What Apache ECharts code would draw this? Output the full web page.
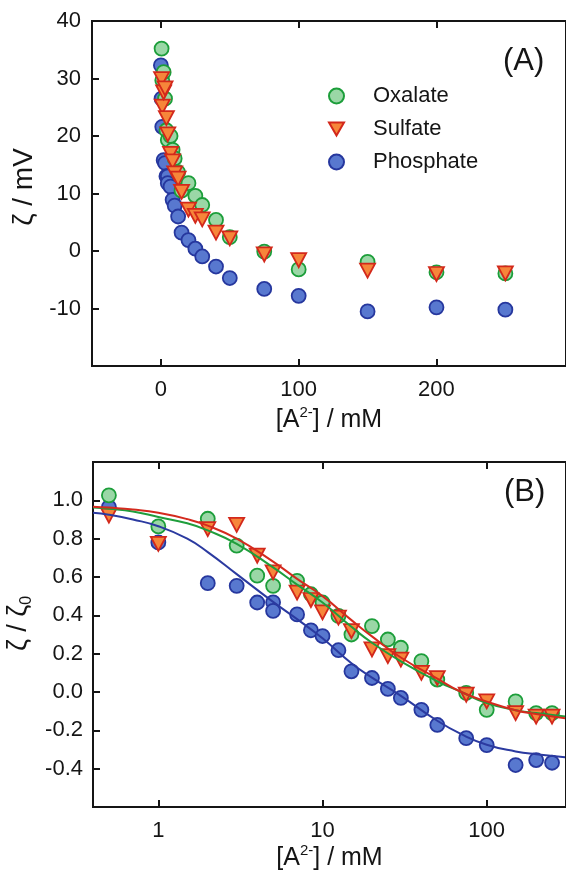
<!DOCTYPE html>
<html>
<head>
<meta charset="utf-8">
<script src="https://cdn.jsdelivr.net/npm/echarts@6/dist/echarts.min.js"></script>
<style>
html,body{margin:0;padding:0;background:#fff;}
#c{width:566px;height:874px;}
</style>
</head>
<body>
<div id="c"></div>
<script>
// ---- Panel A: zeta potential (mV) vs concentration (mM) ----
const concA = [0.5, 1, 2, 3, 4, 5, 7, 8.5, 10, 12.5, 15, 20, 25, 30, 40, 50, 75, 100, 150, 200, 250];
const oxalateA = [35.2, 29.7, 31.1, 26.5, 21.0, 19.3, 20.0, 17.6, 16.1, 13.7, 10.5, 11.8, 9.6, 8.0, 5.4, 2.4, -0.1, -3.2, -1.9, -3.7, -3.9];
const sulfateA = [29.9, 25.1, 27.6, 28.3, 23.1, 20.3, 16.9, 15.6, 13.5, 12.6, 10.3, 7.2, 6.1, 5.5, 3.2, 2.2, -0.6, -1.6, -3.4, -4.0, -3.9];
const concPhosA = [0, 0.5, 1, 2, 3, 4, 5, 5, 7, 8.5, 10, 12.5, 15, 20, 25, 30, 40, 50, 75, 100, 150, 200, 250];
const phosphateA = [32.3, 26.5, 21.6, 15.8, 15.3, 13.0, 13.0, 11.8, 11.2, 8.9, 7.9, 6.0, 3.2, 1.9, 0.4, -0.95, -2.7, -4.7, -6.6, -7.8, -10.5, -9.8, -10.2];

// ---- Panel B: normalized zeta vs concentration (log) ----
const concB = [0.5, 1, 2, 3, 4, 5, 7, 8.5, 10, 12.5, 15, 20, 25, 30, 40, 50, 75, 100, 150, 200, 250];
const oxalateB = [1.026, 0.864, 0.904, 0.764, 0.607, 0.554, 0.58, 0.51, 0.467, 0.397, 0.30, 0.344, 0.274, 0.231, 0.161, 0.065, -0.005, -0.093, -0.049, -0.11, -0.11];
const sulfateB = [0.92, 0.773, 0.85, 0.872, 0.711, 0.624, 0.519, 0.48, 0.416, 0.388, 0.318, 0.222, 0.187, 0.169, 0.10, 0.073, -0.014, -0.049, -0.11, -0.128, -0.128];
const concPhosB = [0.5, 1, 2, 3, 4, 5, 5, 7, 8.5, 10, 12.5, 15, 20, 25, 30, 40, 50, 75, 100, 150, 200, 250];
const phosphateB = [0.965, 0.78, 0.568, 0.554, 0.467, 0.468, 0.423, 0.405, 0.322, 0.292, 0.218, 0.108, 0.073, 0.016, -0.031, -0.093, -0.172, -0.241, -0.277, -0.381, -0.355, -0.369];

// fitted curves
const fitX = [0.4, 0.5, 0.7, 1, 1.5, 2, 3, 5, 7, 10, 15, 20, 30, 50, 70, 100, 150, 200, 300];
const oxalateFit = [0.962, 0.956, 0.942, 0.913, 0.88, 0.843, 0.773, 0.65, 0.56, 0.467, 0.34, 0.257, 0.16, 0.056, 0.0, -0.058, -0.095, -0.11, -0.128];
const sulfateFit = [0.967, 0.962, 0.952, 0.935, 0.902, 0.868, 0.80, 0.68, 0.59, 0.50, 0.375, 0.29, 0.18, 0.07, 0.0, -0.05, -0.095, -0.115, -0.137];
const phosphateFit = [0.935, 0.925, 0.90, 0.865, 0.80, 0.73, 0.615, 0.47, 0.38, 0.28, 0.15, 0.075, -0.02, -0.15, -0.22, -0.275, -0.31, -0.325, -0.34];

// tick labels
const ticksAX = [0, 100, 200];
const seriesNames = ['Oxalate', 'Sulfate', 'Phosphate'];

const FONT = 'Liberation Sans, Arial, Helvetica, sans-serif';
const INK = '#151515';
const GREEN = {fill: '#9ad7a6', edge: '#1c9e3a', line: '#1f9e3c'};
const RED = {fill: '#f6863a', edge: '#d3281b', line: '#d42a1e'};
const BLUE = {fill: '#5878cf', edge: '#26379e', line: '#2b3aa0'};

const zip = (xs, ys) => xs.map((x, i) => [x, ys[i]]);

const chart = echarts.init(document.getElementById('c'), null, {renderer: 'canvas'});

const tickStyle = {show: true, inside: true, length: 7, lineStyle: {color: INK, width: 2}};
const labelStyle = {color: INK, fontSize: 22, fontFamily: FONT};
const axLine = {show: true, onZero: false, lineStyle: {color: INK, width: 2}};
const gridBase = {show: true, borderColor: INK, borderWidth: 2, backgroundColor: 'transparent', outerBoundsMode: 'none', containLabel: false};

function markStyle(c) {
  return {color: c.fill, borderColor: c.edge, borderWidth: 1.8, opacity: 1};
}
const nameRich = {
  n: {fontSize: 25, lineHeight: 30, color: INK, fontFamily: FONT, verticalAlign: 'middle'},
  s: {fontSize: 15, lineHeight: 15, color: INK, fontFamily: FONT, verticalAlign: 'top'}
};

const option = {
  animation: false,
  backgroundColor: '#ffffff',
  textStyle: {fontFamily: FONT},
  grid: [
    Object.assign({left: 92, top: 21, right: 0, height: 345}, gridBase),
    Object.assign({left: 93, top: 462, right: 0, height: 345}, gridBase)
  ],
  xAxis: [
    {
      gridIndex: 0, type: 'value', min: -50, max: 294, position: 'bottom',
      axisLine: axLine, splitLine: {show: false},
      axisTick: Object.assign({customValues: ticksAX}, tickStyle),
      axisLabel: Object.assign({customValues: ticksAX, margin: 13}, labelStyle),
      name: '{n|[A}{s|2-}{n|] / mM}', nameLocation: 'middle', nameGap: 39,
      nameTextStyle: {rich: nameRich}
    },
    {
      gridIndex: 0, type: 'value', min: -50, max: 294, position: 'top',
      axisLine: axLine, splitLine: {show: false},
      axisTick: Object.assign({customValues: ticksAX}, tickStyle),
      axisLabel: {show: false}
    },
    {
      gridIndex: 1, type: 'log', logBase: 10, min: 0.4, max: 304, position: 'bottom',
      axisLine: axLine, splitLine: {show: false}, minorTick: {show: false},
      axisTick: tickStyle,
      axisLabel: Object.assign({margin: 13, showMinLabel: false, showMaxLabel: false}, labelStyle),
      name: '{n|[A}{s|2-}{n|] / mM}', nameLocation: 'middle', nameGap: 36,
      nameTextStyle: {rich: nameRich}
    },
    {
      gridIndex: 1, type: 'log', logBase: 10, min: 0.4, max: 304, position: 'top',
      axisLine: axLine, splitLine: {show: false}, minorTick: {show: false},
      axisTick: tickStyle,
      axisLabel: {show: false}
    }
  ],
  yAxis: [
    {
      gridIndex: 0, type: 'value', min: -20, max: 40, interval: 10,
      axisLine: axLine, splitLine: {show: false},
      axisTick: tickStyle,
      axisLabel: Object.assign({margin: 11, showMinLabel: false}, labelStyle),
      name: 'ζ / mV', nameLocation: 'middle', nameRotate: 90, nameGap: 50,
      nameTextStyle: {fontSize: 28, color: INK, fontFamily: FONT, padding: [0, 0, 0, 13]}
    },
    {
      gridIndex: 1, type: 'value', min: -0.6, max: 1.2, interval: 0.2,
      axisLine: axLine, splitLine: {show: false},
      axisTick: tickStyle,
      axisLabel: Object.assign({margin: 10, showMinLabel: false, showMaxLabel: false,
        formatter: v => (Math.abs(v) < 1e-9 ? 0 : v).toFixed(1)}, labelStyle),
      name: '{a|ζ / ζ}{s|0}', nameLocation: 'middle', nameRotate: 90, nameGap: 50,
      nameTextStyle: {padding: [0, 0, 0, 22], rich: {
        a: {fontSize: 27, lineHeight: 32, color: INK, fontFamily: FONT, verticalAlign: 'middle'},
        s: {fontSize: 16, lineHeight: 16, color: INK, fontFamily: FONT, verticalAlign: 'bottom'}
      }}
    }
  ],
  legend: {
    orient: 'vertical', left: 323, top: 80,
    itemWidth: 15, itemHeight: 15, itemGap: 11,
    data: [
      {name: seriesNames[0], icon: 'circle'},
      {name: seriesNames[1], icon: 'path://M0,0 L16,0 L8,14 Z'},
      {name: seriesNames[2], icon: 'circle'}
    ],
    selectedMode: false,
    textStyle: {fontSize: 22, color: INK, fontFamily: FONT, padding: [0, 0, 0, 24]}
  },
  graphic: [
    {type: 'text', left: 503, top: 46, style: {text: '(A)', font: '31px ' + FONT, fill: INK}},
    {type: 'text', left: 504, top: 477, style: {text: '(B)', font: '31px ' + FONT, fill: INK}}
  ],
  series: [
    // Panel A
    {name: 'Phosphate', type: 'scatter', xAxisIndex: 0, yAxisIndex: 0, symbol: 'circle', symbolSize: 14,
     itemStyle: markStyle(BLUE), data: zip(concPhosA, phosphateA), z: 3},
    {name: 'Oxalate', type: 'scatter', xAxisIndex: 0, yAxisIndex: 0, symbol: 'circle', symbolSize: 14,
     itemStyle: markStyle(GREEN), data: zip(concA, oxalateA), z: 3},
    {name: 'Sulfate', type: 'scatter', xAxisIndex: 0, yAxisIndex: 0, symbol: 'triangle', symbolRotate: 180, symbolSize: [15, 14],
     itemStyle: markStyle(RED), data: zip(concA, sulfateA), z: 3},
    // Panel B points
    {name: 'Phosphate', type: 'scatter', xAxisIndex: 2, yAxisIndex: 1, symbol: 'circle', symbolSize: 14,
     itemStyle: markStyle(BLUE), data: zip(concPhosB, phosphateB), z: 3},
    {name: 'Oxalate', type: 'scatter', xAxisIndex: 2, yAxisIndex: 1, symbol: 'circle', symbolSize: 14,
     itemStyle: markStyle(GREEN), data: zip(concB, oxalateB), z: 3},
    {name: 'Sulfate', type: 'scatter', xAxisIndex: 2, yAxisIndex: 1, symbol: 'triangle', symbolRotate: 180, symbolSize: [15, 14],
     itemStyle: markStyle(RED), data: zip(concB, sulfateB), z: 3},
    // Panel B fits
    {name: 'Phosphate fit', type: 'line', xAxisIndex: 2, yAxisIndex: 1, showSymbol: false, smooth: true,
     lineStyle: {color: BLUE.line, width: 2}, data: zip(fitX, phosphateFit), z: 4},
    {name: 'Oxalate fit', type: 'line', xAxisIndex: 2, yAxisIndex: 1, showSymbol: false, smooth: true,
     lineStyle: {color: GREEN.line, width: 2}, data: zip(fitX, oxalateFit), z: 4},
    {name: 'Sulfate fit', type: 'line', xAxisIndex: 2, yAxisIndex: 1, showSymbol: false, smooth: true,
     lineStyle: {color: RED.line, width: 2}, data: zip(fitX, sulfateFit), z: 4}
  ]
};
chart.setOption(option);
</script>
</body>
</html>
